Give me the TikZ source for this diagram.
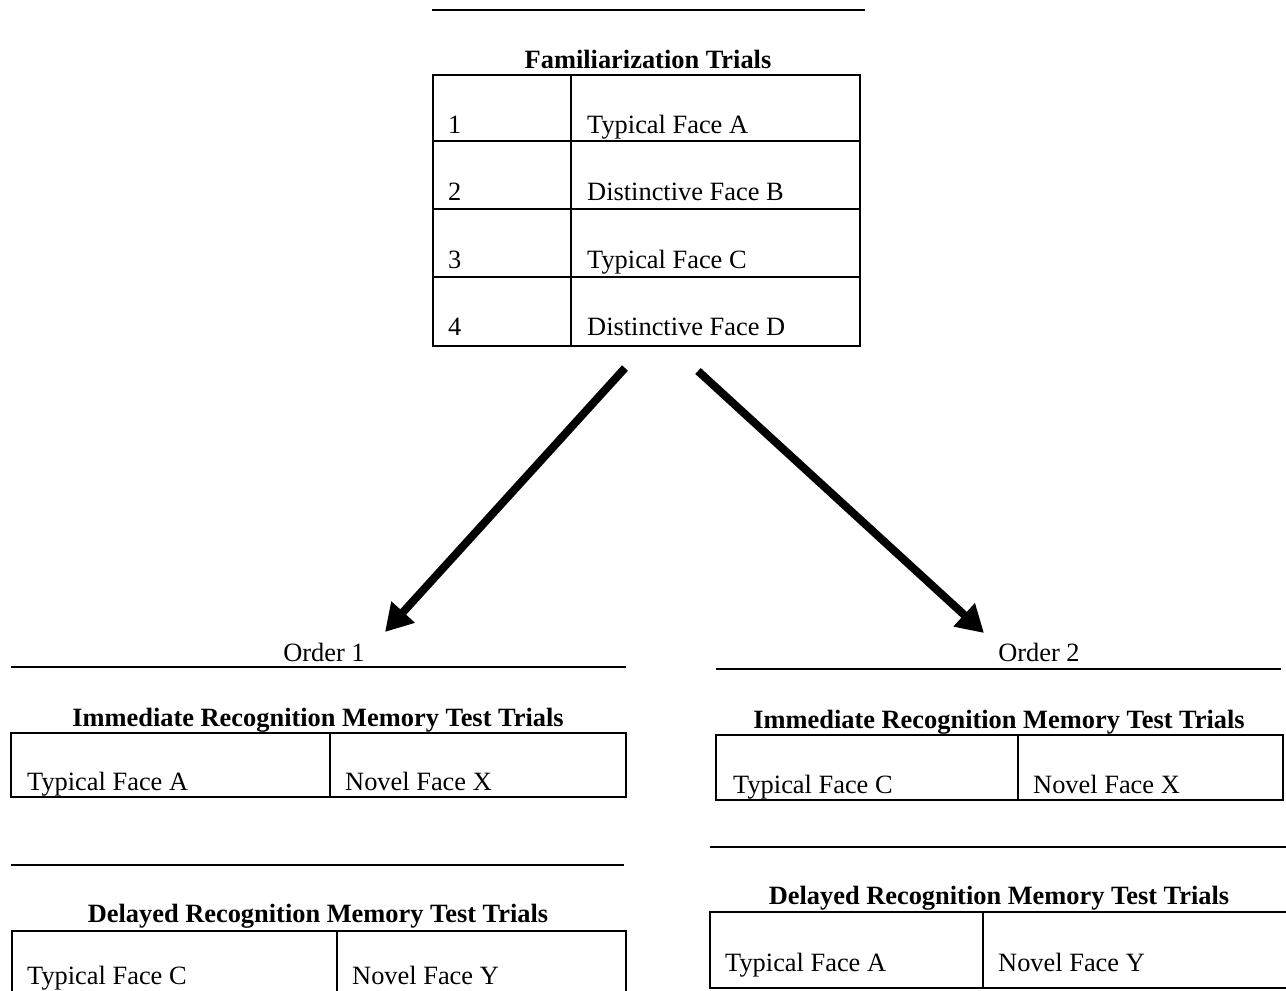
\documentclass[tikz,border=0pt]{standalone}
\usepackage{fontspec}
\setmainfont{Liberation Serif}
\usetikzlibrary{arrows.meta}
\begin{document}
\begin{tikzpicture}[x=1pt,y=-1pt,
  rule/.style={line width=2pt},
  grid/.style={line width=1.6pt},
  cell/.style={anchor=base west, inner sep=0pt, font=\fontsize{26.4}{30}\selectfont},
  ttl/.style={anchor=base, inner sep=0pt, font=\fontsize{26.4}{30}\selectfont\bfseries},
  lbl/.style={anchor=base, inner sep=0pt, font=\fontsize{26.4}{30}\selectfont},
  bigarrow/.style={line width=8pt, -{Triangle[length=27pt,width=30pt]}}]
\useasboundingbox (0,0) rectangle (1286,991);

% ---------- Familiarization ----------
\draw[rule] (432,10) -- (865,10);
\node[ttl] (famt) at (648,68) {Familiarization Trials};
\draw[grid] (433,75) rectangle (860,346);
\draw[grid] (571,75) -- (571,346);
\foreach \yy in {141,209,277} \draw[grid] (433,\yy) -- (860,\yy);
\node[cell] (n1) at (448,133) {1};
\node[cell] (f1) at (587,133) {Typical Face A};
\node[cell] (n2) at (448,200) {2};
\node[cell] (f2) at (587,200) {Distinctive Face B};
\node[cell] (n3) at (448,268) {3};
\node[cell] (f3) at (587,268) {Typical Face C};
\node[cell] (n4) at (448,335) {4};
\node[cell] (f4) at (587,335) {Distinctive Face D};

% ---------- Arrows ----------
\coordinate (a1s) at (625,368);
\coordinate (a1e) at (385,632);
\coordinate (a2s) at (698,371);
\coordinate (a2e) at (984,633);
\draw[bigarrow] (a1s) -- (a1e);
\draw[bigarrow] (a2s) -- (a2e);

% ---------- Order 1 ----------
\node[lbl] (o1) at (324,661) {Order 1};
\draw[rule] (11,667) -- (626,667);
\node[ttl] (im1) at (318,726) {Immediate Recognition Memory Test Trials};
\draw[grid] (11,733) rectangle (626,797);
\draw[grid] (330,733) -- (330,797);
\node[cell] (im1a) at (27,790) {Typical Face A};
\node[cell] (im1b) at (345,790) {Novel Face X};
\draw[rule] (11,865) -- (624,865);
\node[ttl] (de1) at (318,922) {Delayed Recognition Memory Test Trials};
\draw[grid] (12,995) -- (12,931) -- (626,931) -- (626,995);
\draw[grid] (337,931) -- (337,995);
\node[cell] (de1a) at (27,984) {Typical Face C};
\node[cell] (de1b) at (352,984) {Novel Face Y};

% ---------- Order 2 ----------
\node[lbl] (o2) at (1039,661) {Order 2};
\draw[rule] (716,669) -- (1281,669);
\node[ttl] (im2) at (999,728) {Immediate Recognition Memory Test Trials};
\draw[grid] (716,735) rectangle (1283,800);
\draw[grid] (1018,735) -- (1018,800);
\node[cell] (im2a) at (733,793) {Typical Face C};
\node[cell] (im2b) at (1033,793) {Novel Face X};
\draw[rule] (710,847) -- (1286,847);
\node[ttl] (de2) at (999,904) {Delayed Recognition Memory Test Trials};
\draw[grid] (1286,912) -- (710,912) -- (710,988) -- (1286,988);
\draw[grid] (983,912) -- (983,988);
\node[cell] (de2a) at (725,971) {Typical Face A};
\node[cell] (de2b) at (998,971) {Novel Face Y};
\end{tikzpicture}
\end{document}
